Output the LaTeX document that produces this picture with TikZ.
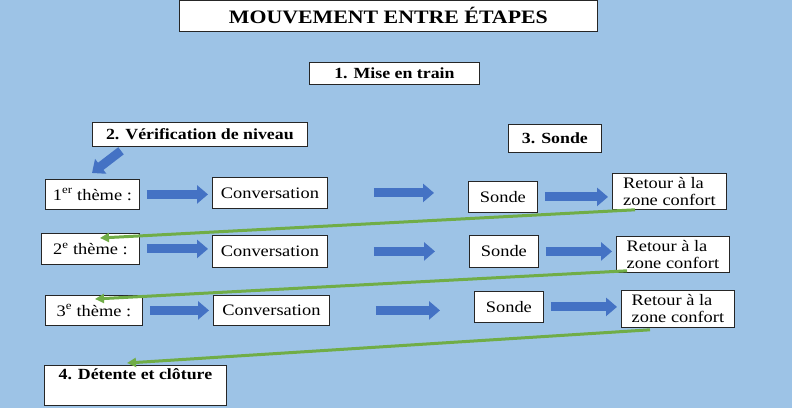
\documentclass[tikz,border=0pt]{standalone}
\usepackage{fontspec}
\setmainfont[FakeStretch=1.15]{Liberation Serif}
\usetikzlibrary{arrows.meta,calc}
\definecolor{bgblue}{HTML}{9DC3E6}
\definecolor{arrowblue}{HTML}{4472C4}
\definecolor{linkgreen}{HTML}{70AD47}
\tikzset{
    box/.style={draw=black!85, fill=white, line width=0.8bp, inner sep=2bp, anchor=north west, font=\fontsize{16bp}{17bp}\selectfont},
    headbox/.style={box, font=\fontsize{15.5bp}{17bp}\selectfont\bfseries},
    blockarrow/.style={draw=arrowblue, line width=9bp, -{Triangle[length=11bp,width=18bp]}},
    nextgap/.style={shorten <=7bp, shorten >=4bp},
    widegap/.style={shorten <=46bp, shorten >=34bp},
    greenlink/.style={draw=linkgreen, line width=3bp, -{Triangle[length=9bp,width=9bp]}}
}
\begin{document}
\begin{tikzpicture}[x=1bp, y=-1bp]
            \fill[bgblue] (0,0) rectangle (792,408);
            \useasboundingbox (0,0) rectangle (792,408);

            %Headings
            \node[headbox, minimum width=418bp, minimum height=31bp, font=\fontsize{19bp}{20bp}\selectfont\bfseries] (title) at (179,0) {MOUVEMENT ENTRE ÉTAPES};
            \node[headbox, minimum width=170bp, minimum height=22bp] (mise) at (309,62) {1. Mise en train};
            \node[headbox, minimum width=215bp, minimum height=24bp] (verif) at (92,122) {2. Vérification de niveau};
            \node[headbox, minimum width=93bp, minimum height=28bp] (sonde) at (508,124) {3. Sonde};
            \node[headbox, minimum width=182bp, minimum height=40bp, text depth=22bp] (detente) at (44,365) {4. Détente et clôture};

            %Nodes
            \node[box, minimum width=94bp, minimum height=30bp] (theme1) at (45,179) {1\textsuperscript{er} thème :};
            \node[box, minimum width=115bp, minimum height=31bp] (conv1) at (212,177) {Conversation};
            \node[box, minimum width=69bp, minimum height=31bp] (sonde1) at (468,181) {Sonde};
            \node[box, minimum width=114bp, minimum height=36bp, align=left] (retour1) at (612,173) {Retour à la\\zone confort};

            \node[box, minimum width=98bp, minimum height=31bp] (theme2) at (41,233) {2\textsuperscript{e} thème :};
            \node[box, minimum width=115bp, minimum height=32bp] (conv2) at (212,235) {Conversation};
            \node[box, minimum width=69bp, minimum height=32bp] (sonde2) at (469,235) {Sonde};
            \node[box, minimum width=113bp, minimum height=36bp, align=left] (retour2) at (616,236) {Retour à la\\zone confort};

            \node[box, minimum width=97bp, minimum height=30bp] (theme3) at (45,295) {3\textsuperscript{e} thème :};
            \node[box, minimum width=116bp, minimum height=30bp] (conv3) at (213,295) {Conversation};
            \node[box, minimum width=69bp, minimum height=31bp] (sonde3) at (474,291) {Sonde};
            \node[box, minimum width=113bp, minimum height=37bp, align=left] (retour3) at (621,290) {Retour à la\\zone confort};

            %Block arrows
            \draw[blockarrow] ($(verif.south west)+(29,4)$) -- ($(theme1.north west)+(47,-6)$);
            \draw[blockarrow, nextgap] (theme1.east) -- (theme1.east -| conv1.west);
            \draw[blockarrow, widegap] (conv1.east) -- (conv1.east -| sonde1.west);
            \draw[blockarrow, nextgap] (sonde1.east) -- (sonde1.east -| retour1.west);
            \draw[blockarrow, nextgap] (theme2.east) -- (theme2.east -| conv2.west);
            \draw[blockarrow, widegap] (conv2.east) -- (conv2.east -| sonde2.west);
            \draw[blockarrow, nextgap] (sonde2.east) -- (sonde2.east -| retour2.west);
            \draw[blockarrow, nextgap] (theme3.east) -- (theme3.east -| conv3.west);
            \draw[blockarrow, widegap] (conv3.east) -- (conv3.east -| sonde3.west);
            \draw[blockarrow, nextgap] (sonde3.east) -- (sonde3.east -| retour3.west);

            %Lines back
            \draw[greenlink] ($(retour1.south west)+(23,0)$) -- ($(theme2.north west)+(59,5)$);
            \draw[greenlink] ($(retour2.south west)+(11,-2)$) -- ($(theme3.north west)+(50,4)$);
            \draw[greenlink] ($(retour3.south west)+(29,2)$) -- ($(detente.north west)+(83,-2)$);
        \end{tikzpicture}
\end{document}
